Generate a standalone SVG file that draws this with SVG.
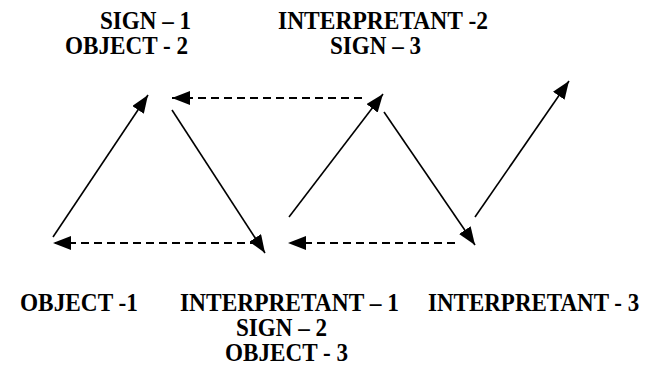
<svg xmlns="http://www.w3.org/2000/svg" width="649" height="367" viewBox="0 0 649 367">
  <style>
    .lbl { font-family: "Liberation Serif", "Times New Roman", serif; font-weight: bold; font-size: 25px; fill: #000; }
    .tall { font-size: 23px; }
    .solid { stroke: #000; stroke-width: 1.6; fill: none; }
    .dash { stroke: #000; stroke-width: 1.8; fill: none; stroke-dasharray: 8 5; }
  </style>
  <defs>
    <marker id="head" viewBox="0 0 18 14" refX="18" refY="7" markerWidth="18" markerHeight="14" markerUnits="userSpaceOnUse" orient="auto">
      <path d="M0,0 L18,7 L0,14 Z" fill="#000"/>
    </marker>
  </defs>

  <rect width="649" height="367" fill="#fff"/>

  <g id="connectors">
    <line class="solid" x1="53" y1="237" x2="148" y2="95" marker-end="url(#head)"/>
    <line class="solid" x1="172" y1="110" x2="265" y2="253" marker-end="url(#head)"/>
    <line class="solid" x1="289" y1="217" x2="383" y2="94" marker-end="url(#head)"/>
    <line class="solid" x1="384" y1="112" x2="475" y2="245" marker-end="url(#head)"/>
    <line class="solid" x1="475" y1="217" x2="569" y2="81" marker-end="url(#head)"/>
    <line class="dash" x1="362" y1="98" x2="172" y2="98" marker-end="url(#head)"/>
    <line class="dash" x1="258" y1="243" x2="53" y2="243" marker-end="url(#head)"/>
    <line class="dash" x1="455" y1="243" x2="288" y2="243" marker-end="url(#head)"/>
  </g>

  <g id="sign1">
    <text class="lbl" x="100" y="29" textLength="91" lengthAdjust="spacingAndGlyphs">SIGN – 1</text>
    <text class="lbl" x="65" y="54" textLength="123" lengthAdjust="spacingAndGlyphs">OBJECT - 2</text>
  </g>
  <g id="interpretant2">
    <text class="lbl" x="278" y="29" textLength="210" lengthAdjust="spacingAndGlyphs">INTERPRETANT -2</text>
    <text class="lbl" x="330" y="54" textLength="91" lengthAdjust="spacingAndGlyphs">SIGN – 3</text>
  </g>
  <g id="object1">
    <text class="lbl" x="20" y="311" textLength="118" lengthAdjust="spacingAndGlyphs">OBJECT -1</text>
  </g>
  <g id="interpretant1">
    <text class="lbl" x="180" y="311" textLength="219" lengthAdjust="spacingAndGlyphs">INTERPRETANT – 1</text>
    <text class="lbl" x="236" y="336" textLength="91" lengthAdjust="spacingAndGlyphs">SIGN – 2</text>
    <text class="lbl" x="225" y="361" textLength="123" lengthAdjust="spacingAndGlyphs">OBJECT - 3</text>
  </g>
  <g id="interpretant3">
    <text class="lbl tall" x="0" y="0" transform="translate(428,311) scale(1,1.087)">INTERPRETANT - 3</text>
  </g>
</svg>
